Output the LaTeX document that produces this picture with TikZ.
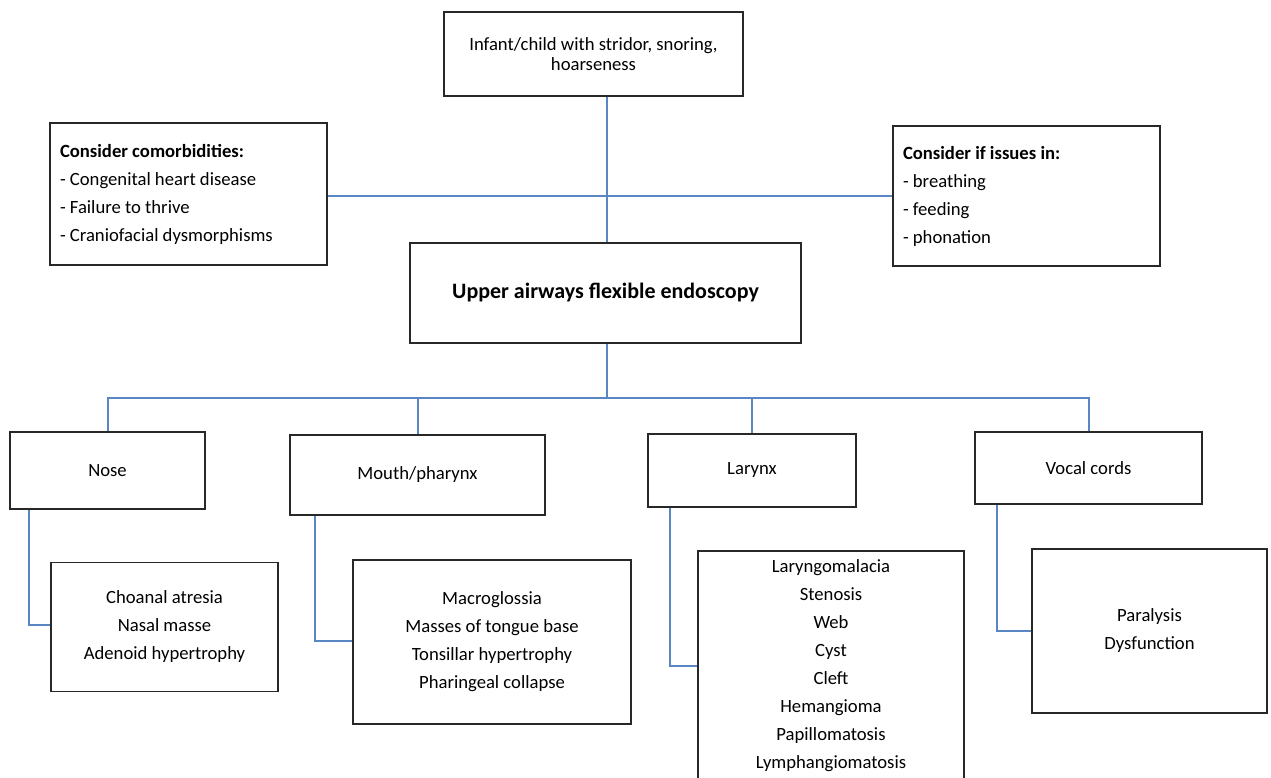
\documentclass[tikz,border=0pt]{standalone}
\usepackage{fontspec}
\setmainfont{Carlito}
\definecolor{conn}{RGB}{91,134,196}
\definecolor{boxline}{RGB}{40,40,40}
\tikzset{
  box/.style={draw=boxline, line width=1.3pt, inner sep=0pt, fill=white, font=\fontsize{14}{21}\selectfont, align=center},
  sz/.style 2 args={minimum width=#1*0.75pt, minimum height=#2*0.75pt},
  lbox/.style={box, align=flush left},
  link/.style={draw=conn, line width=1.5pt}
}
\begin{document}
\begin{tikzpicture}[x=0.75pt,y=-0.75pt]
\clip (0,0) rectangle (1271,778);
\fill[white] (0,0) rectangle (1271,778);
% nodes
\node[box, sz={299}{84}, font=\fontsize{14}{15}\selectfont] (top) at (593.5,54) {Infant/child with stridor, snoring,\\hoarseness};
\node[lbox, sz={277}{142}, text width=192.75pt, inner xsep=7.5pt] (comorb) at (188.5,194) {\textbf{Consider comorbidities:}\\- Congenital heart disease\\- Failure to thrive\\- Craniofacial dysmorphisms};
\node[lbox, sz={267}{140}, text width=185.25pt, inner xsep=7.5pt] (issues) at (1026.5,196) {\textbf{Consider if issues in:}\\- breathing\\- feeding\\- phonation};
\node[box, sz={391}{100}, font=\fontsize{16.5}{20}\selectfont\bfseries] (endo) at (605.5,293) {Upper airways flexible endoscopy};
\node[box, sz={195}{77}] (nose) at (107.5,470.5) {Nose};
\node[box, sz={255}{80}] (mouth) at (417.5,475) {Mouth/pharynx};
\node[box, sz={208}{73}] (larynx) at (752,470.5) {Larynx};
\node[box, sz={227}{72}] (vocal) at (1088.5,468) {Vocal cords};
\node[box, sz={227}{129}] (nosec) at (164.5,627) {Choanal atresia\\Nasal masse\\Adenoid hypertrophy};
\node[box, sz={278}{164}] (mouthc) at (492,642) {Macroglossia\\Masses of tongue base\\Tonsillar hypertrophy\\Pharingeal collapse};
\node[box, sz={266}{230}] (larynxc) at (831,666) {Laryngomalacia\\Stenosis\\Web\\Cyst\\Cleft\\Hemangioma\\Papillomatosis\\Lymphangiomatosis};
\node[box, sz={235}{164}] (vocalc) at (1149.5,631) {Paralysis\\Dysfunction};
% coordinates
\coordinate (hy) at (607,196);
\coordinate (bus) at (607,398);
\coordinate (n1) at (29,625);
\coordinate (m1) at (315,641);
\coordinate (l1) at (670,666);
\coordinate (v1) at (997,631);
% connectors
\draw[link] (top.south -| bus) -- (endo.north -| bus);
\draw[link] (comorb.east |- hy) -- (issues.west |- hy);
\draw[link] (endo.south -| bus) -- (bus);
\draw[link] (nose.north) -- (nose.north |- bus) -- (vocal.north |- bus) -- (vocal.north);
\draw[link] (mouth.north) -- (mouth.north |- bus);
\draw[link] (larynx.north) -- (larynx.north |- bus);
\draw[link] (nose.south -| n1) |- (nosec.west |- n1);
\draw[link] (mouth.south -| m1) |- (mouthc.west |- m1);
\draw[link] (larynx.south -| l1) |- (larynxc.west |- l1);
\draw[link] (vocal.south -| v1) |- (vocalc.west |- v1);
\end{tikzpicture}
\end{document}
